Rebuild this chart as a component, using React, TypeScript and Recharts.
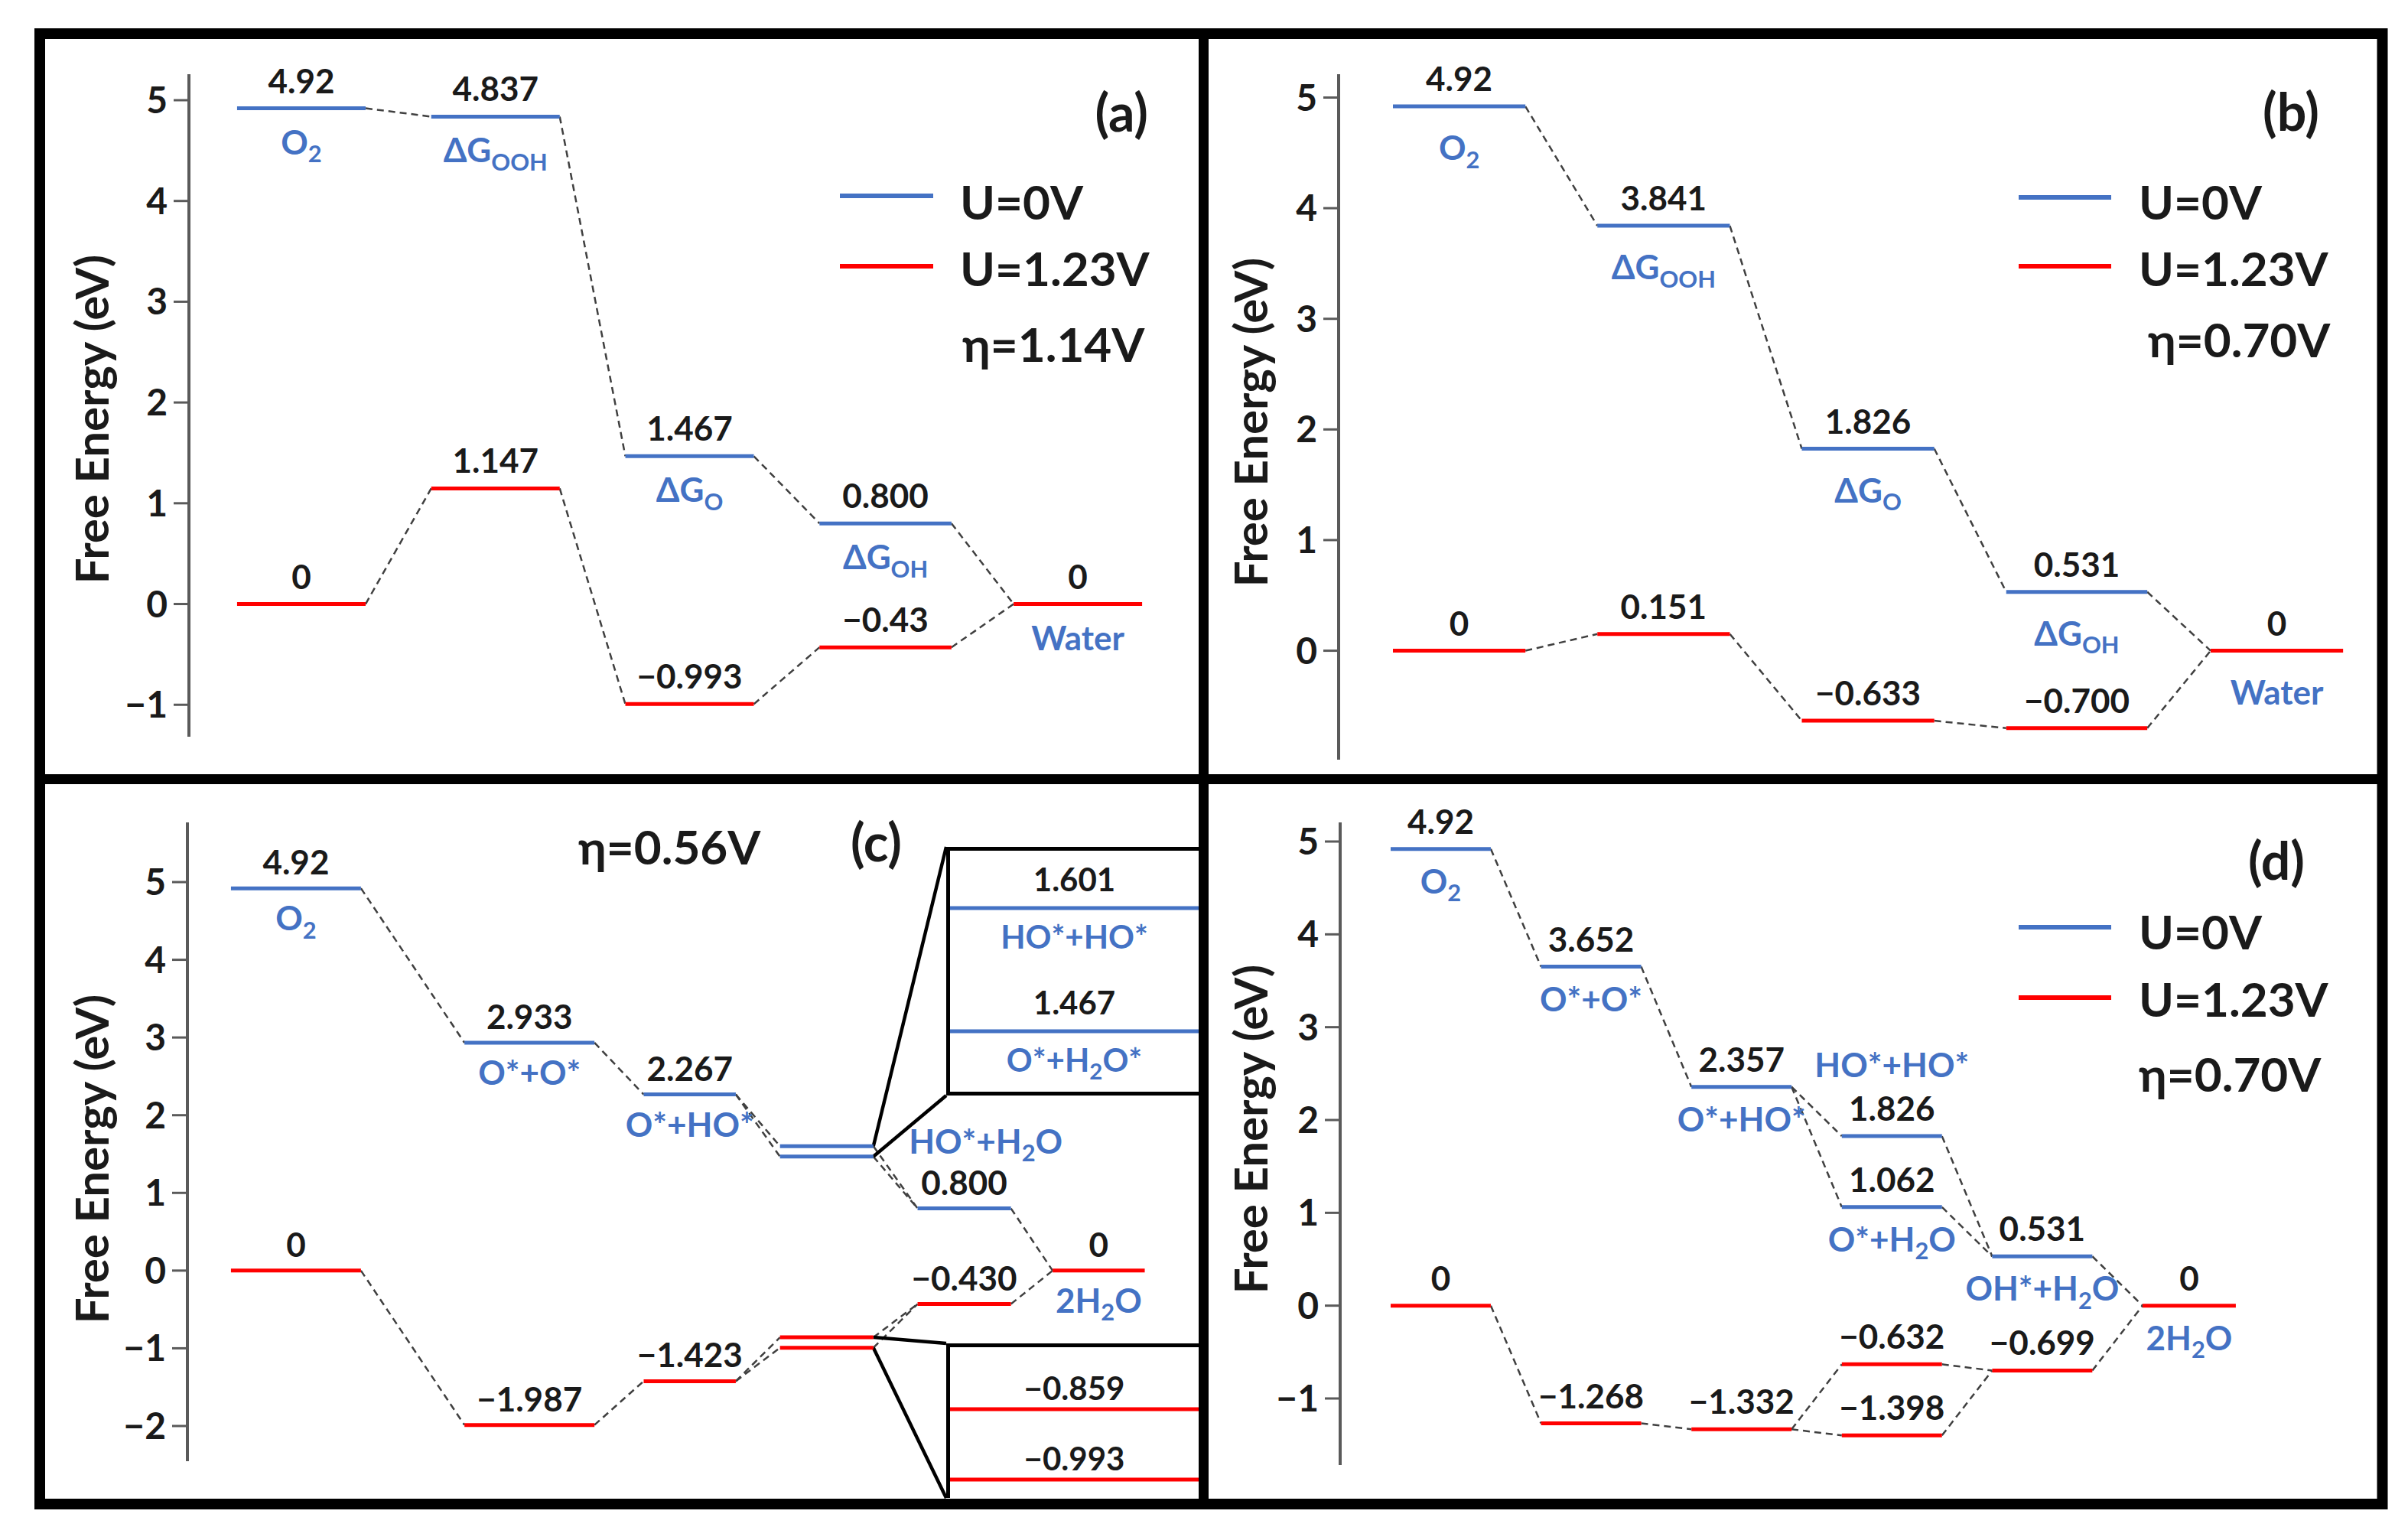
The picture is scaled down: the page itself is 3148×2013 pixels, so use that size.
import React from "react";
import { ComposedChart, Line, Scatter, XAxis, YAxis, ReferenceLine } from "recharts";

const BLUE = "#4472C4";
const RED = "#FF0000";
const INK = "#1a1a1a";
const DASH = "#404040";
const AXIS = "#5a5a5a";
const FONT = "Lato, 'Open Sans', sans-serif";

// ---------- (a) ----------
const A_STAGES = [0, 1, 2, 3, 4];
const A_TICKS = [-1, 0, 1, 2, 3, 4, 5];
const A_U0_STAGE = [0, 1, 2, 3];
const A_U0 = [4.92, 4.837, 1.467, 0.8];
const A_U0_TEXT = ["4.92", "4.837", "1.467", "0.800"];
const A_U0_SPECIES = ["O_2", "ΔG_{OOH}", "ΔG_O", "ΔG_{OH}"];
const A_U123_STAGE = [0, 1, 2, 3, 4];
const A_U123 = [0, 1.147, -0.993, -0.43, 0];
const A_U123_TEXT = ["0", "1.147", "−0.993", "−0.43", "0"];
const A_U123_SPECIES = ["", "", "", "", "Water"];

// ---------- (b) ----------
const B_STAGES = [0, 1, 2, 3, 4];
const B_TICKS = [0, 1, 2, 3, 4, 5];
const B_U0_STAGE = [0, 1, 2, 3];
const B_U0 = [4.92, 3.841, 1.826, 0.531];
const B_U0_TEXT = ["4.92", "3.841", "1.826", "0.531"];
const B_U0_SPECIES = ["O_2", "ΔG_{OOH}", "ΔG_O", "ΔG_{OH}"];
const B_U123_STAGE = [0, 1, 2, 3, 4];
const B_U123 = [0, 0.151, -0.633, -0.7, 0];
const B_U123_TEXT = ["0", "0.151", "−0.633", "−0.700", "0"];
const B_U123_SPECIES = ["", "", "", "", "Water"];

// ---------- (c) ----------
const C_STAGES = [0, 1.85, 3.27, 4.35, 5.44, 6.51];
const C_TICKS = [-2, -1, 0, 1, 2, 3, 4, 5];
const C_U0_STAGE = [0, 1, 2, 3, 3, 4];
const C_U0 = [4.92, 2.933, 2.267, 1.601, 1.467, 0.8];
const C_U0_TEXT = ["4.92", "2.933", "2.267", "", "", "0.800"];
const C_U0_SPECIES = ["O_2", "O*+O*", "O*+HO*", "", "", ""];
const C_U0_ABOVE = ["", "", "", "", "", "HO*+H_2O"];
const C_U0_LINKS = [[0, 1], [1, 2], [2, 3], [2, 4], [3, 5], [4, 5]];
const C_U123_STAGE = [0, 1, 2, 3, 3, 4, 5];
const C_U123 = [0, -1.987, -1.423, -0.859, -0.993, -0.43, 0];
const C_U123_TEXT = ["0", "−1.987", "−1.423", "", "", "−0.430", "0"];
const C_U123_SPECIES = ["", "", "", "", "", "", "2H_2O"];
const C_U123_LINKS = [[0, 1], [1, 2], [2, 3], [2, 4], [3, 5], [4, 5], [5, 6]];
const C_ZOOM_U0 = [1.601, 1.467];
const C_ZOOM_U0_TEXT = ["1.601", "1.467"];
const C_ZOOM_U0_SPECIES = ["HO*+HO*", "O*+H_2O*"];
const C_ZOOM_U123 = [-0.859, -0.993];
const C_ZOOM_U123_TEXT = ["−0.859", "−0.993"];

// ---------- (d) ----------
const D_STAGES = [0, 1, 2, 3, 4, 5];
const D_TICKS = [-1, 0, 1, 2, 3, 4, 5];
const D_U0_STAGE = [0, 1, 2, 3, 3, 4];
const D_U0 = [4.92, 3.652, 2.357, 1.826, 1.062, 0.531];
const D_U0_TEXT = ["4.92", "3.652", "2.357", "1.826", "1.062", "0.531"];
const D_U0_SPECIES = ["O_2", "O*+O*", "O*+HO*", "", "O*+H_2O", "OH*+H_2O"];
const D_U0_ABOVE = ["", "", "", "HO*+HO*", "", ""];
const D_U0_LINKS = [[0, 1], [1, 2], [2, 3], [2, 4], [3, 5], [4, 5]];
const D_U123_STAGE = [0, 1, 2, 3, 3, 4, 5];
const D_U123 = [0, -1.268, -1.332, -0.632, -1.398, -0.699, 0];
const D_U123_TEXT = ["0", "−1.268", "−1.332", "−0.632", "−1.398", "−0.699", "0"];
const D_U123_SPECIES = ["", "", "", "", "", "", "2H_2O"];
const D_U123_LINKS = [[0, 1], [1, 2], [2, 3], [2, 4], [3, 5], [4, 5], [5, 6]];

const LEGEND = [
  { name: "U=0V", color: BLUE },
  { name: "U=1.23V", color: RED },
];
const ETA = ["η=1.14V", "η=0.70V", "η=0.56V", "η=0.70V"];
const TAGS = ["(a)", "(b)", "(c)", "(d)"];
const Y_TITLE = "Free Energy (eV)";

type Series = {
  stage: number[];
  value: number[];
  text: string[];
  below: string[];
  above?: string[];
  links?: number[][];
};

type PanelCfg = {
  stages: number[];
  ticks: number[];
  u0: Series;
  u123: Series;
  cross: number[][];
  box: { left: number; top: number; width: number; height: number };
  yAxisW: number;
  margin: { top: number; right: number; bottom: number; left: number };
  xDomain: [number, number];
  yDomain: [number, number];
  axisSpan: [number, number];
  widths: number[];
  topOff: number;
  belowOff: number;
  aboveOff: number;
  aboveDx?: number;
  frames?: { x0: number; y0: number; x1: number; y1: number }[];
};

function parseRich(s: string) {
  const out: { t: string; sub: boolean }[] = [];
  const re = /_\{([^}]*)\}|_(.)/g;
  let last = 0;
  let m: RegExpExecArray | null;
  while ((m = re.exec(s))) {
    if (m.index > last) out.push({ t: s.slice(last, m.index), sub: false });
    out.push({ t: m[1] ?? m[2], sub: true });
    last = re.lastIndex;
  }
  if (last < s.length) out.push({ t: s.slice(last), sub: false });
  return out;
}

function RichText({ x, y, text, fill, size, anchor = "middle" }: any) {
  let shift = 0;
  return (
    <text x={x} y={y} textAnchor={anchor} fill={fill} fontSize={size} fontWeight={700} fontFamily={FONT}>
      {parseRich(text).map((p, i) => {
        const target = p.sub ? size * 0.24 : 0;
        const dy = target - shift;
        shift = target;
        return (
          <tspan key={i} dy={dy} fontSize={p.sub ? size * 0.7 : size}>
            {p.t}
          </tspan>
        );
      })}
    </text>
  );
}

const labelShape = (p: any) => (
  <RichText x={p.cx} y={p.cy + p.payload.dy} text={p.payload.label} fill={p.payload.color} size={p.payload.size} />
);

function levelsOf(s: Series, cfg: PanelCfg, color: string) {
  return s.value.map((v, i) => {
    const st = s.stage[i];
    const x0 = cfg.stages[st];
    return {
      x0,
      x1: x0 + cfg.widths[st],
      y: v,
      color,
      text: s.text[i],
      below: s.below[i] || "",
      above: (s.above && s.above[i]) || "",
    };
  });
}

function linksOf(s: Series) {
  return s.links ?? s.value.slice(1).map((_, i) => [i, i + 1]);
}

const fmtTick = (v: number) => (v < 0 ? `−${-v}` : `${v}`);

function EnergyPanel({ cfg }: { cfg: PanelCfg }) {
  const blue = levelsOf(cfg.u0, cfg, BLUE);
  const red = levelsOf(cfg.u123, cfg, RED);
  const dashed: { x: number; y: number }[][] = [];
  linksOf(cfg.u0).forEach(([i, j]) => dashed.push([{ x: blue[i].x1, y: blue[i].y }, { x: blue[j].x0, y: blue[j].y }]));
  linksOf(cfg.u123).forEach(([i, j]) => dashed.push([{ x: red[i].x1, y: red[i].y }, { x: red[j].x0, y: red[j].y }]));
  cfg.cross.forEach(([i, j]) => dashed.push([{ x: blue[i].x1, y: blue[i].y }, { x: red[j].x0, y: red[j].y }]));

  const labels: any[] = [];
  [...blue, ...red].forEach((l) => {
    const x = (l.x0 + l.x1) / 2;
    if (l.text) labels.push({ x, y: l.y, label: l.text, color: INK, dy: cfg.topOff, size: 44 });
    if (l.below) labels.push({ x, y: l.y, label: l.below, color: BLUE, dy: cfg.belowOff, size: 44 });
    if (l.above) labels.push({ x: x + (cfg.aboveDx ?? 0), y: l.y, label: l.above, color: BLUE, dy: cfg.aboveOff, size: 44 });
  });

  // solid frame lines towards the magnified boxes
  const frameLines: { x: number; y: number }[][] = [];
  (cfg.frames ?? []).forEach((f) => frameLines.push([{ x: f.x0, y: f.y0 }, { x: f.x1, y: f.y1 }]));

  const { box } = cfg;
  return (
    <div style={{ position: "absolute", left: box.left, top: box.top, width: box.width, height: box.height }}>
      <ComposedChart width={box.width} height={box.height} margin={cfg.margin}>
        <XAxis type="number" dataKey="x" domain={cfg.xDomain} hide />
        <YAxis
          type="number"
          dataKey="y"
          domain={cfg.yDomain}
          ticks={cfg.ticks}
          interval={0}
          width={cfg.yAxisW}
          axisLine={false}
          tickLine={{ stroke: AXIS, strokeWidth: 3 }}
          tickSize={20}
          tickMargin={8}
          tick={{ fontFamily: FONT, fontSize: 48, fontWeight: 700, fill: INK }}
          tickFormatter={fmtTick}
        />
        <ReferenceLine
          segment={[
            { x: cfg.xDomain[0], y: cfg.axisSpan[0] },
            { x: cfg.xDomain[0], y: cfg.axisSpan[1] },
          ]}
          stroke={AXIS}
          strokeWidth={4}
          ifOverflow="visible"
        />
        {dashed.map((d, i) => (
          <Line
            key={`d${i}`}
            data={d}
            dataKey="y"
            stroke={DASH}
            strokeWidth={2.5}
            strokeDasharray="9 6"
            dot={false}
            activeDot={false}
            legendType="none"
            isAnimationActive={false}
          />
        ))}
        {frameLines.map((d, i) => (
          <Line
            key={`f${i}`}
            data={d}
            dataKey="y"
            stroke="#000"
            strokeWidth={4.5}
            dot={false}
            activeDot={false}
            legendType="none"
            isAnimationActive={false}
          />
        ))}
        {[...blue, ...red].map((l, i) => (
          <Line
            key={`l${i}`}
            data={[
              { x: l.x0, y: l.y },
              { x: l.x1, y: l.y },
            ]}
            dataKey="y"
            stroke={l.color}
            strokeWidth={5}
            dot={false}
            activeDot={false}
            legendType="none"
            isAnimationActive={false}
          />
        ))}
        <Scatter data={labels} shape={labelShape} legendType="none" isAnimationActive={false} />
      </ComposedChart>
    </div>
  );
}

function ZoomBox({ left, top, width, height, borders, values, texts, species, color, yDomain, topOff, belowOff }: any) {
  const innerW = width - 5;
  const innerH = height - borders.top - borders.bottom;
  const labels: any[] = [];
  values.forEach((v: number, i: number) => {
    labels.push({ x: 0.5, y: v, label: texts[i], color: INK, dy: topOff, size: 42 });
    if (species && species[i]) labels.push({ x: 0.5, y: v, label: species[i], color: BLUE, dy: belowOff, size: 42 });
  });
  return (
    <div
      style={{
        position: "absolute",
        left,
        top,
        width,
        height,
        boxSizing: "border-box",
        borderLeft: "5px solid #000",
        borderTop: `${borders.top}px solid #000`,
        borderBottom: `${borders.bottom}px solid #000`,
        background: "#fff",
      }}
    >
      <ComposedChart width={innerW} height={innerH} margin={{ top: 0, right: 0, bottom: 0, left: 0 }}>
        <XAxis type="number" dataKey="x" domain={[0, 1]} hide />
        <YAxis type="number" dataKey="y" domain={yDomain} hide />
        {values.map((v: number, i: number) => (
          <Line
            key={i}
            data={[
              { x: 0, y: v },
              { x: 1, y: v },
            ]}
            dataKey="y"
            stroke={color}
            strokeWidth={5}
            dot={false}
            activeDot={false}
            legendType="none"
            isAnimationActive={false}
          />
        ))}
        <Scatter data={labels} shape={labelShape} legendType="none" isAnimationActive={false} />
      </ComposedChart>
    </div>
  );
}

const PANEL_A: PanelCfg = {
  stages: A_STAGES,
  ticks: A_TICKS,
  u0: { stage: A_U0_STAGE, value: A_U0, text: A_U0_TEXT, below: A_U0_SPECIES },
  u123: { stage: A_U123_STAGE, value: A_U123, text: A_U123_TEXT, below: A_U123_SPECIES },
  cross: [[3, 4]],
  box: { left: 60, top: 52, width: 1507, height: 960 },
  yAxisW: 187,
  margin: { top: 45, right: 47, bottom: 49, left: 0 },
  xDomain: [-0.248, 4.768],
  yDomain: [-1.317, 5.258],
  axisSpan: [-1.317, 5.258],
  widths: [0.662, 0.662, 0.662, 0.68, 0.662],
  topOff: -20,
  belowOff: 60,
  aboveOff: -70,
};

const PANEL_B: PanelCfg = {
  stages: B_STAGES,
  ticks: B_TICKS,
  u0: { stage: B_U0_STAGE, value: B_U0, text: B_U0_TEXT, below: B_U0_SPECIES },
  u123: { stage: B_U123_STAGE, value: B_U123, text: B_U123_TEXT, below: B_U123_SPECIES },
  cross: [[3, 4]],
  box: { left: 1580, top: 52, width: 1527, height: 960 },
  yAxisW: 170,
  margin: { top: 45, right: 27, bottom: 19, left: 0 },
  xDomain: [-0.2657, 4.711],
  yDomain: [-0.985, 5.211],
  axisSpan: [-0.985, 5.211],
  widths: [0.648, 0.648, 0.648, 0.69, 0.648],
  topOff: -20,
  belowOff: 70,
  aboveOff: -70,
};

const PANEL_C: PanelCfg = {
  stages: C_STAGES,
  ticks: C_TICKS,
  u0: { stage: C_U0_STAGE, value: C_U0, text: C_U0_TEXT, below: C_U0_SPECIES, above: C_U0_ABOVE, links: C_U0_LINKS },
  u123: { stage: C_U123_STAGE, value: C_U123, text: C_U123_TEXT, below: C_U123_SPECIES, links: C_U123_LINKS },
  cross: [[5, 6]],
  box: { left: 60, top: 1025, width: 1507, height: 937 },
  yAxisW: 185,
  margin: { top: 50, right: 0, bottom: 0, left: 0 },
  xDomain: [-0.345, 7.667],
  yDomain: [-2.965, 5.768],
  axisSpan: [-2.453, 5.768],
  widths: [1.03, 1.03, 0.73, 0.74, 0.74, 0.73],
  topOff: -18,
  belowOff: 55,
  aboveOff: -72,
  aboveDx: 0.17,
  frames: [
    { x0: 5.09, y0: 1.601, x1: 5.667, y1: 5.453 },
    { x0: 5.09, y0: 1.467, x1: 5.667, y1: 2.254 },
    { x0: 5.09, y0: -0.859, x1: 5.667, y1: -0.936 },
    { x0: 5.09, y0: -0.993, x1: 5.667, y1: -2.925 },
  ],
};

const PANEL_D: PanelCfg = {
  stages: D_STAGES,
  ticks: D_TICKS,
  u0: { stage: D_U0_STAGE, value: D_U0, text: D_U0_TEXT, below: D_U0_SPECIES, above: D_U0_ABOVE, links: D_U0_LINKS },
  u123: { stage: D_U123_STAGE, value: D_U123, text: D_U123_TEXT, below: D_U123_SPECIES, links: D_U123_LINKS },
  cross: [[5, 6]],
  box: { left: 1580, top: 1025, width: 1527, height: 933 },
  yAxisW: 172,
  margin: { top: 50, right: 27, bottom: 43, left: 0 },
  xDomain: [-0.3357, 6.419],
  yDomain: [-1.717, 5.206],
  axisSpan: [-1.717, 5.206],
  widths: [0.666, 0.666, 0.666, 0.666, 0.666, 0.62],
  topOff: -20,
  belowOff: 58,
  aboveOff: -77,
};

// overlay text placement per panel
const LEGEND_POS = [
  { x0: 1098, x1: 1220, ys: [256, 348], tx: 1255, ty: [287, 374] },
  { x0: 2639, x1: 2760, ys: [258, 348], tx: 2796, ty: [287, 374] },
  null,
  { x0: 2639, x1: 2760, ys: [1212, 1304], tx: 2796, ty: [1241, 1329] },
];
const ETA_POS = [
  { x: 1258, y: 473 },
  { x: 2808, y: 467 },
  { x: 756, y: 1130 },
  { x: 2796, y: 1427 },
];
const TAG_POS = [
  { x: 1501, y: 172 },
  { x: 3032, y: 171 },
  { x: 1179, y: 1126 },
  { x: 3013, y: 1150 },
];
const TITLE_POS = [
  { x: 142, y: 548 },
  { x: 1657, y: 552 },
  { x: 142, y: 1515 },
  { x: 1657, y: 1476 },
];

function Overlay() {
  const txt = { fontFamily: FONT, fontWeight: 700, fill: INK } as const;
  return (
    <svg width={3148} height={2013} style={{ position: "absolute", left: 0, top: 0, pointerEvents: "none" }}>
      <rect x={52} y={44} width={3062.5} height={1922} fill="none" stroke="#000" strokeWidth={14} />
      <line x1={1573.5} y1={44} x2={1573.5} y2={1966} stroke="#000" strokeWidth={13} />
      <line x1={52} y1={1018.5} x2={3114.5} y2={1018.5} stroke="#000" strokeWidth={13} />
      {TITLE_POS.map((p, i) => (
        <text key={`t${i}`} {...txt} fontSize={60} textAnchor="middle" transform={`translate(${p.x},${p.y}) rotate(-90)`}>
          {Y_TITLE}
        </text>
      ))}
      {LEGEND_POS.map((p, i) =>
        p
          ? LEGEND.map((l, k) => (
              <g key={`lg${i}${k}`}>
                <line x1={p.x0} x2={p.x1} y1={p.ys[k]} y2={p.ys[k]} stroke={l.color} strokeWidth={6} />
                <text {...txt} fontSize={62} x={p.tx} y={p.ty[k]}>
                  {l.name}
                </text>
              </g>
            ))
          : null
      )}
      {ETA_POS.map((p, i) => (
        <text key={`e${i}`} {...txt} fontSize={62} x={p.x} y={p.y}>
          {ETA[i]}
        </text>
      ))}
      {TAG_POS.map((p, i) => (
        <text key={`g${i}`} {...txt} fontSize={68} x={p.x} y={p.y} textAnchor="end">
          {TAGS[i]}
        </text>
      ))}
    </svg>
  );
}

export default function App() {
  return (
    <div
      style={{
        position: "absolute",
        left: 0,
        top: 0,
        width: 3148,
        height: 2013,
        background: "#fff",
        overflow: "hidden",
        fontFamily: FONT,
      }}
    >
      <EnergyPanel cfg={PANEL_A} />
      <EnergyPanel cfg={PANEL_B} />
      <EnergyPanel cfg={PANEL_C} />
      <EnergyPanel cfg={PANEL_D} />
      <ZoomBox
        left={1237}
        top={1107}
        width={330}
        height={325}
        borders={{ top: 5, bottom: 5 }}
        values={C_ZOOM_U0}
        texts={C_ZOOM_U0_TEXT}
        species={C_ZOOM_U0_SPECIES}
        color={BLUE}
        yDomain={[1.4012, 1.6634]}
        topOff={-22}
        belowOff={53}
      />
      <ZoomBox
        left={1237}
        top={1756}
        width={330}
        height={202}
        borders={{ top: 5, bottom: 0 }}
        values={C_ZOOM_U123}
        texts={C_ZOOM_U123_TEXT}
        species={null}
        color={RED}
        yDomain={[-1.028, -0.741]}
        topOff={-12}
        belowOff={50}
      />
      <Overlay />
    </div>
  );
}
